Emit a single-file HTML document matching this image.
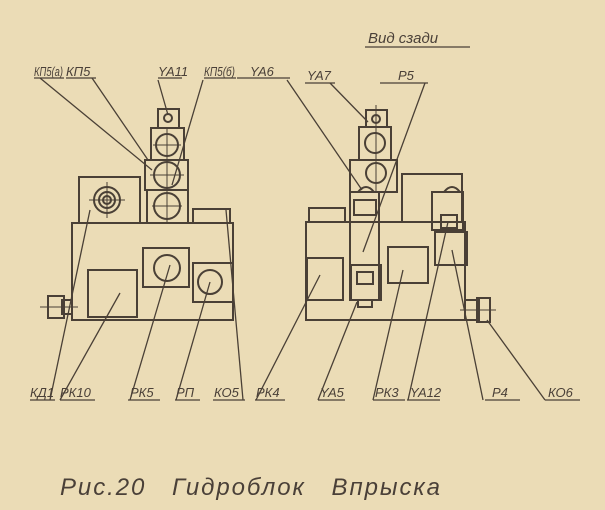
<!DOCTYPE html>
<html><head><meta charset="utf-8"><style>
html,body{margin:0;padding:0;background:#ebdcb6;}
svg{display:block}
text{font-family:"Liberation Sans",sans-serif;font-style:italic;fill:#4a4038;}
</style></head><body>
<svg width="605" height="510" viewBox="0 0 605 510" xmlns="http://www.w3.org/2000/svg">
<rect width="605" height="510" fill="#ebdcb6"/>
<g fill="none" stroke="#4a4036" stroke-width="2">
<!-- LEFT FIGURE -->
<rect x="72" y="223" width="161" height="97"/>
<rect x="79" y="177" width="61" height="46"/>
<circle cx="107" cy="200" r="13"/><circle cx="107" cy="200" r="8"/><circle cx="107" cy="200" r="4"/>
<line x1="89" y1="200" x2="125" y2="200" stroke-width="1"/><line x1="107" y1="182" x2="107" y2="218" stroke-width="1"/>
<rect x="158" y="109" width="21" height="19"/><circle cx="168" cy="118" r="4"/>
<rect x="151" y="128" width="33" height="32"/><circle cx="167" cy="145" r="11"/>
<rect x="145" y="160" width="43" height="30"/><circle cx="167" cy="175" r="13"/>
<rect x="147" y="190" width="41" height="33"/><circle cx="167" cy="206" r="13"/>
<line x1="167" y1="128" x2="167" y2="223" stroke-width="1"/>
<line x1="153" y1="145" x2="181" y2="145" stroke-width="1"/><line x1="150" y1="175" x2="184" y2="175" stroke-width="1"/><line x1="152" y1="206" x2="182" y2="206" stroke-width="1"/>
<rect x="193" y="209" width="37" height="14"/>
<rect x="143" y="248" width="46" height="39"/><circle cx="167" cy="268" r="13"/>
<rect x="193" y="263" width="40" height="39"/><circle cx="210" cy="282" r="12"/>
<rect x="88" y="270" width="49" height="47"/>
<rect x="48" y="296" width="16" height="22"/><rect x="62" y="300" width="10" height="14"/><line x1="40" y1="307" x2="78" y2="307" stroke-width="1"/>
<g stroke-width="1.3">
<line x1="34" y1="78" x2="64" y2="78"/><line x1="40" y1="78" x2="152" y2="170"/>
<line x1="66" y1="78" x2="96" y2="78"/><line x1="92" y1="78" x2="148" y2="160"/>
<line x1="158" y1="78" x2="182" y2="78"/><line x1="158" y1="80" x2="168" y2="115"/>
<line x1="204" y1="78" x2="236" y2="78"/><line x1="203" y1="80" x2="172" y2="185"/>
<line x1="237" y1="78" x2="290" y2="78"/><line x1="287" y1="80" x2="362" y2="190"/>
<line x1="30" y1="400" x2="55" y2="400"/><line x1="50" y1="400" x2="70" y2="305"/><line x1="70" y1="305" x2="90" y2="210"/>
<line x1="60" y1="400" x2="95" y2="400"/><line x1="60" y1="400" x2="120" y2="293"/>
<line x1="128" y1="400" x2="160" y2="400"/><line x1="130" y1="400" x2="170" y2="265"/>
<line x1="175" y1="400" x2="200" y2="400"/><line x1="176" y1="400" x2="210" y2="282"/>
<line x1="213" y1="400" x2="245" y2="400"/><line x1="243" y1="400" x2="226" y2="210"/>
<line x1="255" y1="400" x2="285" y2="400"/><line x1="256" y1="400" x2="320" y2="275"/>
</g>
<!-- RIGHT FIGURE -->
<rect x="306" y="222" width="159" height="98"/>
<rect x="309" y="208" width="36" height="14"/>
<rect x="366" y="110" width="21" height="17"/><circle cx="376" cy="119" r="4"/>
<rect x="359" y="127" width="32" height="33"/><circle cx="375" cy="143" r="10"/>
<rect x="350" y="160" width="47" height="32"/><circle cx="376" cy="173" r="10"/>
<line x1="376" y1="105" x2="376" y2="192" stroke-width="1"/>
<rect x="402" y="174" width="60" height="48"/>
<rect x="350" y="192" width="29" height="108"/>
<rect x="354" y="200" width="22" height="15"/>
<rect x="351" y="265" width="30" height="35"/><rect x="357" y="272" width="16" height="12"/><rect x="358" y="300" width="14" height="7"/>
<rect x="432" y="192" width="31" height="38"/><rect x="441" y="215" width="16" height="13"/>
<path d="M444 192 q8 -10 16 0"/>
<path d="M358 192 q8 -10 16 0"/>
<rect x="435" y="232" width="32" height="33"/>
<rect x="307" y="258" width="36" height="42"/>
<rect x="388" y="247" width="40" height="36"/>
<rect x="465" y="300" width="14" height="20"/><rect x="477" y="298" width="13" height="24"/><line x1="460" y1="310" x2="496" y2="310" stroke-width="1"/>
<g stroke-width="1.3">
<line x1="365" y1="47" x2="470" y2="47"/>
<line x1="305" y1="83" x2="335" y2="83"/><line x1="330" y1="83" x2="368" y2="122"/>
<line x1="380" y1="83" x2="428" y2="83"/><line x1="425" y1="83" x2="363" y2="252"/>
<line x1="318" y1="400" x2="345" y2="400"/><line x1="318" y1="400" x2="357" y2="302"/>
<line x1="373" y1="400" x2="405" y2="400"/><line x1="373" y1="400" x2="403" y2="270"/>
<line x1="407" y1="400" x2="440" y2="400"/><line x1="408" y1="400" x2="448" y2="222"/>
<line x1="485" y1="400" x2="520" y2="400"/><line x1="483" y1="400" x2="452" y2="250"/>
<line x1="545" y1="400" x2="580" y2="400"/><line x1="545" y1="400" x2="487" y2="320"/>
</g>
</g>
<g font-size="13">
<text x="34" y="76" textLength="29" lengthAdjust="spacingAndGlyphs">КП5(а)</text><text x="66" y="76">КП5</text><text x="158" y="76">YA11</text>
<text x="204" y="76" textLength="31" lengthAdjust="spacingAndGlyphs">КП5(б)</text><text x="250" y="76">YA6</text>
<text x="307" y="80">YA7</text><text x="398" y="80">Р5</text>
<text x="368" y="43" font-size="15">Вид сзади</text>
<text x="30" y="397">КД1</text><text x="60" y="397">РК10</text><text x="130" y="397">РК5</text>
<text x="176" y="397">РП</text><text x="214" y="397">КО5</text><text x="256" y="397">РК4</text>
<text x="320" y="397">YA5</text><text x="375" y="397">РК3</text><text x="410" y="397">YA12</text>
<text x="492" y="397">Р4</text><text x="548" y="397">КО6</text>
</g>
<text x="60" y="495" font-size="24" textLength="380" lengthAdjust="spacing" xml:space="preserve">Рис.20   Гидроблок   Впрыска</text>
</svg>
</body></html>
